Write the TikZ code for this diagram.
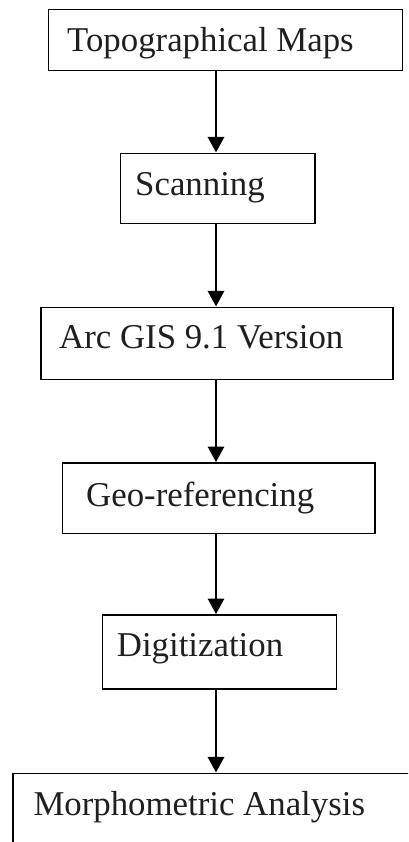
\documentclass[tikz,border=0pt]{standalone}
\usepackage{fontspec}
\setmainfont{Liberation Serif}
\usetikzlibrary{arrows.meta}
\tikzset{
  box/.style={draw=black, line width=1.5pt, rectangle, inner sep=0pt, anchor=north west},
  lbl/.style={anchor=base west, inner sep=0pt, text=black!88, font=\fontsize{34.8}{40}\selectfont},
  flow/.style={line width=1.6pt, -{Triangle[width=16.5pt,length=15.5pt]}, shorten >=0.3pt}
}
\begin{document}
\begin{tikzpicture}[x=1pt, y=-1pt]
  \useasboundingbox (0,0) rectangle (408,842);
  \clip (0,0) rectangle (408,842);
  % boxes of the flow chart
  \node[box, minimum width=354pt, minimum height=61pt] (b1) at (47.7,9) {};
  \node[box, minimum width=194.3pt, minimum height=70pt] (b2) at (119.7,152.7) {};
  \node[box, minimum width=352pt, minimum height=72pt] (b3) at (40,306.7) {};
  \node[box, minimum width=312.3pt, minimum height=70.4pt] (b4) at (61.7,462.3) {};
  \node[box, minimum width=234pt, minimum height=74pt] (b5) at (101.7,614.3) {};
  \node[box, minimum width=420pt, minimum height=100pt] (b6) at (12.3,772.7) {};
  % labels
  \node[lbl] (t1) at (67,52) {Topographical Maps};
  \node[lbl] (t2) at (135,195.5) {Scanning};
  \node[lbl] (t3) at (59,348.3) {Arc GIS 9.1 Version};
  \node[lbl] (t4) at (86,506) {Geo-referencing};
  \node[lbl] (t5) at (116.7,656.7) {Digitization};
  \node[lbl] (t6) at (33.3,815) {Morphometric Analysis};
  % connectors along one vertical axis
  \coordinate (ax) at (216,0);
  \draw[flow] (b1.south -| ax) -- (b2.north -| ax);
  \draw[flow] (b2.south -| ax) -- (b3.north -| ax);
  \draw[flow] (b3.south -| ax) -- (b4.north -| ax);
  \draw[flow] (b4.south -| ax) -- (b5.north -| ax);
  \draw[flow] (b5.south -| ax) -- (b6.north -| ax);
\end{tikzpicture}
\end{document}
